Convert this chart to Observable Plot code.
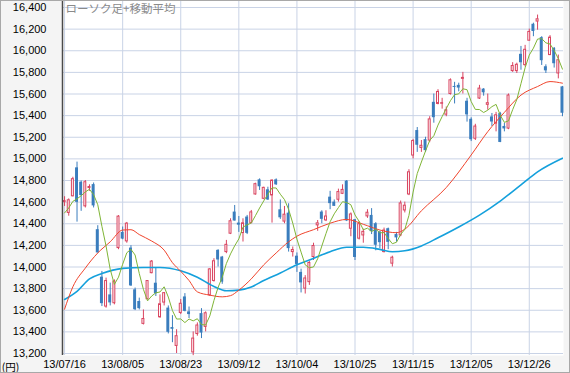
<!DOCTYPE html>
<html><head><meta charset="utf-8">
<script src="https://cdn.jsdelivr.net/npm/d3@7"></script>
<script src="https://cdn.jsdelivr.net/npm/@observablehq/plot@0.6"></script>
<style>
html,body{margin:0;padding:0;background:#fff;}
#chart{width:570px;height:373px;}
svg{display:block;}
</style></head><body><div id="chart"></div>
<script>
const dates = [
"13/07/16","13/07/17","13/07/18","13/07/19","13/07/22","13/07/23","13/07/24","13/07/25","13/07/26","13/07/29","13/07/30","13/07/31",
"13/08/01","13/08/02","13/08/05","13/08/06","13/08/07","13/08/08","13/08/09","13/08/12","13/08/13","13/08/14","13/08/15","13/08/16","13/08/19","13/08/20","13/08/21","13/08/22","13/08/23","13/08/26","13/08/27","13/08/28","13/08/29","13/08/30",
"13/09/02","13/09/03","13/09/04","13/09/05","13/09/06","13/09/09","13/09/10","13/09/11","13/09/12","13/09/13","13/09/17","13/09/18","13/09/19","13/09/20","13/09/24","13/09/25","13/09/26","13/09/27","13/09/30",
"13/10/01","13/10/02","13/10/03","13/10/04","13/10/07","13/10/08","13/10/09","13/10/10","13/10/11","13/10/15","13/10/16","13/10/17","13/10/18","13/10/21","13/10/22","13/10/23","13/10/24","13/10/25","13/10/28","13/10/29","13/10/30","13/10/31",
"13/11/01","13/11/05","13/11/06","13/11/07","13/11/08","13/11/11","13/11/12","13/11/13","13/11/14","13/11/15","13/11/18","13/11/19","13/11/20","13/11/21","13/11/22","13/11/25","13/11/26","13/11/27","13/11/28","13/11/29",
"13/12/02","13/12/03","13/12/04","13/12/05","13/12/06","13/12/09","13/12/10","13/12/11","13/12/12","13/12/13","13/12/16","13/12/17","13/12/18","13/12/19","13/12/20","13/12/24","13/12/25","13/12/26","13/12/27","13/12/30",
"14/01/06","14/01/07","14/01/08","14/01/09","14/01/10","14/01/14"];

const open = [14600,14500,14654,14917,14784,14561,14730,14762,14345,13906,13634,13742,
13665,14175,14320,14237,14175,13789,13681,13474,13702,13943,13850,13535,13671,13620,13440,13270,13575,13723,13585,13210,13380,13569,
13446,13738,13871,14154,14092,14138,14308,14508,14406,14314,14462,14406,14671,14806,14631,14714,14662,14806,14529,
14420,14498,14138,14100,13950,13800,13860,14092,14385,14508,14431,14646,14600,14622,14677,14794,14354,14437,14262,14292,14468,14477,
14400,14323,14138,14354,14031,14300,14292,14523,14671,15031,15262,15101,15178,15169,15523,15508,15510,15409,15600,15670,
15680,15740,15533,15366,15186,15558,15645,15500,15388,15326,15419,15300,15280,15812,15812,15967,15867,16093,16245,16270,
16121,15852,15960,16022,15790,15666];
const high = [14650,14630,14830,14970,14795,14800,14760,14777,14382,13959,13897,13851,
13881,14475,14370,14412,14197,13805,13712,13603,13875,14060,13990,13742,13764,13640,13550,13420,13700,13754,13630,13400,13483,13615,
13585,13985,14077,14160,14098,14246,14446,14569,14467,14446,14477,14523,14775,14815,14738,14738,14806,14815,14620,
14560,14585,14185,14130,13980,13920,14050,14220,14430,14520,14520,14700,14620,14720,14760,14800,14500,14440,14420,14350,14530,14540,
14410,14330,14360,14360,14100,14320,14610,14600,14900,15180,15290,15170,15200,15390,15600,15640,15560,15480,15740,15708,
15700,15800,15560,15380,15320,15680,15650,15600,15420,15430,15430,15330,15600,15890,15885,16040,16050,16200,16255,16330,
16130,15870,16140,16030,15960,15670];
const low = [14560,14470,14648,14415,14515,14546,14700,14546,14129,13634,13619,13640,
13650,14160,14252,14220,13820,13597,13603,13464,13696,13937,13727,13526,13640,13381,13300,13200,13560,13585,13523,13180,13360,13338,
13400,13728,13860,14000,13840,14123,14300,14425,14320,14231,14300,14400,14665,14708,14622,14615,14406,14754,14440,
14400,14138,14092,13950,13760,13750,13830,14060,14330,14400,14420,14530,14560,14600,14670,14420,14280,14060,14250,14220,14450,14300,
14150,14170,14130,14160,14000,14230,14280,14500,14660,15000,15060,15060,15060,15150,15330,15500,15460,15390,15590,15508,
15620,15600,15340,15160,15170,15550,15580,15450,15300,15250,15150,15250,15270,15800,15790,15820,15850,16090,16130,16190,
15864,15790,15955,15840,15740,15390];
const close = [14610,14617,14812,14598,14660,14784,14740,14565,14130,13661,13870,13668,
13866,14466,14258,14401,13825,13605,13615,13519,13870,14050,13752,13655,13758,13396,13424,13360,13660,13590,13560,13338,13459,13389,
13572,13978,14053,14065,13860,14205,14423,14425,14387,14404,14311,14505,14766,14742,14732,14620,14799,14760,14455,
14484,14170,14157,14024,13853,13894,14037,14194,14404,14441,14467,14586,14561,14693,14713,14426,14486,14088,14396,14325,14502,14327,
14201,14225,14337,14228,14086,14269,14588,14567,14876,15165,15126,15121,15076,15365,15381,15619,15515,15449,15727,15661,
15655,15749,15407,15177,15299,15650,15611,15515,15341,15403,15152,15277,15586,15859,15870,15889,16009,16174,16178,16291,
15908,15814,16121,15880,15912,15422];

// 25-day moving average (red) at these trading-day positions
const ma25Days = [0,2,5,8,11,14,16,18,21,24,26,28,30,32,35,38,40,42,45,48,51,54,56,60,64,68,72,76,80,82,86,92,98,102,106,110,114,117,120];
const ma25 = [13610,13817,13990,14130,14233,14342,14345,14300,14240,14156,14040,13960,13875,13770,13740,13724,13735,13786,13890,14020,14130,14233,14285,14345,14405,14440,14395,14342,14317,14350,14520,14735,15036,15252,15430,15590,15669,15715,15700];
// 75-day moving average (blue)
const ma75Days = [0,3,6,9,14,19,23,28,32,36,39,42,45,48,52,56,59,64,68,72,76,79,82,86,90,95,100,105,110,114,120];
const ma75 = [13700,13775,13890,13940,13987,13996,13996,13965,13905,13820,13780,13786,13815,13875,13945,14020,14064,14141,14182,14182,14163,14141,14150,14195,14270,14370,14480,14610,14760,14880,15006];
// first four points of the 5-day average (green)
const ma5Lead = [14500,14546,14607,14630];

const tickLabels = ["13/07/16","13/08/05","13/08/23","13/09/12","13/10/04","13/10/25","13/11/15","13/12/05","13/12/26"];
const yTicks = [13200,13400,13600,13800,14000,14200,14400,14600,14800,15000,15200,15400,15600,15800,16000,16200,16400];

const RED = "#d9435f", BLUE = "#3a7dbd";
const candles = dates.map((d, i) => ({i, o: open[i], h: high[i], l: low[i], c: close[i], up: close[i] >= open[i]}));
const ma5 = candles.map((d, i) => ({i, v: i < 4 ? ma5Lead[i] : d3.mean(close.slice(i - 4, i + 1))}));
const red25 = ma25Days.map((d, k) => ({i: d, v: ma25[k]}));
const blue75 = ma75Days.map((d, k) => ({i: d, v: ma75[k]}));
const tickIdx = tickLabels.map(t => dates.indexOf(t));
const grid = "#c9d3e6";

const chart = Plot.plot({
  width: 570, height: 373,
  marginLeft: 62, marginRight: 7, marginTop: 7, marginBottom: 20,
  style: {background: "#f4f4f4", fontFamily: "'Liberation Sans', Arial, sans-serif", fontSize: "11px", color: "#000"},
  x: {type: "linear", domain: [-0.5, 120.25], axis: null},
  y: {domain: [13200, 16400], axis: null},
  marks: [
    Plot.frame({fill: "white", stroke: "none", insetTop: -7, insetBottom: -2}),
    Plot.ruleY(yTicks, {stroke: grid}),
    Plot.ruleX(tickIdx, {stroke: grid, insetTop: -7, insetBottom: -2}),
    Plot.axisY({ticks: yTicks, tickSize: 0, tickPadding: 16, tickFormat: d3.format(","), fontSize: 11, label: null}),
    Plot.axisX({ticks: tickIdx, tickSize: 0, tickPadding: 7, tickFormat: i => dates[i], fontSize: 11, label: null}),
    Plot.ruleX(candles, {x: "i", y1: "l", y2: "h", stroke: d => d.up ? RED : BLUE, strokeWidth: 1}),
    Plot.rect(candles.filter(d => !d.up), {x1: d => d.i - 0.5, x2: d => d.i + 0.5, y1: "o", y2: "c", fill: BLUE, insetLeft: 0.6, insetRight: 0.6}),
    Plot.rect(candles.filter(d => d.up), {x1: d => d.i - 0.5, x2: d => d.i + 0.5, y1: "o", y2: "c", fill: "white", stroke: RED, strokeWidth: 1, insetLeft: 1.1, insetRight: 1.1}),
    Plot.line(blue75, {x: "i", y: "v", stroke: "#14a0dc", strokeWidth: 1.6, curve: "monotone-x", clip: true}),
    Plot.line(red25, {x: "i", y: "v", stroke: "#f0452d", strokeWidth: 1, curve: "monotone-x", clip: true}),
    Plot.line(ma5, {x: "i", y: "v", stroke: "#7fb536", strokeWidth: 1, clip: true}),
    Plot.ruleX([-0.5], {stroke: "#4a4a4a", strokeWidth: 1.5, insetTop: -7, insetBottom: -2}),
    Plot.text(["ローソク足+移動平均"], {text: d => d, frameAnchor: "top-left", dx: 3, dy: 1.5, lineAnchor: "middle", textAnchor: "start", fontSize: 11.5, fill: "#8a8a8a", fontFamily: "'Noto Sans CJK JP', sans-serif"}),
    Plot.text(["(円)"], {text: d => d, frameAnchor: "bottom-left", dx: -52, dy: 14, lineAnchor: "middle", textAnchor: "middle", fontSize: 10.5, fill: "#000", fontFamily: "'Noto Sans CJK JP', sans-serif"})
  ]
});
document.getElementById("chart").appendChild(chart);
d3.select(chart).append("rect").attr("x", 0.5).attr("y", 0.5).attr("width", 569).attr("height", 372)
  .attr("fill", "none").attr("stroke", "#a8a8a8");
</script></body></html>
